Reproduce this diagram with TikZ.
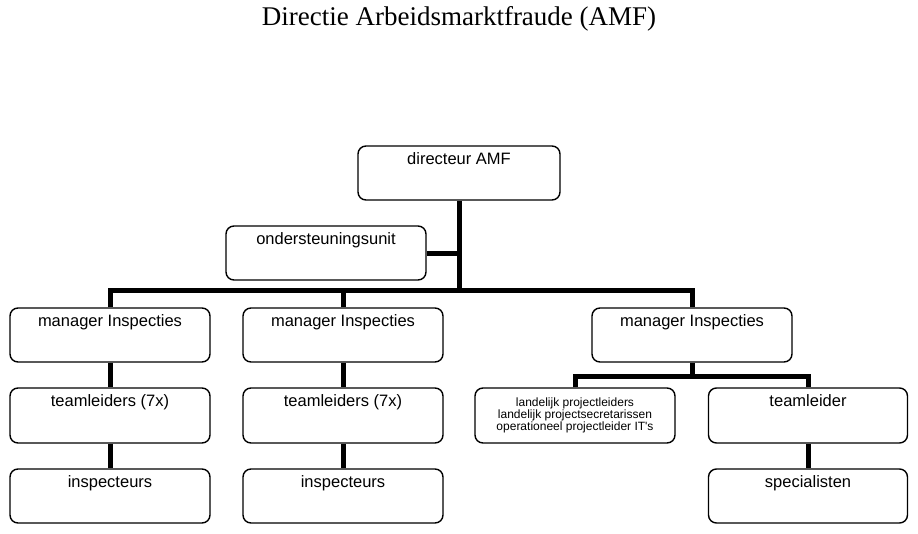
\documentclass[tikz,border=0pt]{standalone}
\usepackage{fontspec}
\setmainfont{Liberation Serif}
\newfontfamily\arialf{Liberation Sans}
\begin{document}
\begin{tikzpicture}[x=1pt,y=-1pt,
  box/.style={draw=black, line width=1.4pt, rounded corners=8pt, rectangle,
    minimum width=200pt, minimum height=54pt, inner sep=0pt, fill=white},
  lab/.style={anchor=north, inner sep=0pt, yshift=-7pt, font=\arialf\fontsize{16.5}{18}\selectfont},
  conn/.style={line width=5pt, draw=black}]
\useasboundingbox (0,0) rectangle (918,533);
\node[font=\fontsize{27}{30}\selectfont] (title) at (459,19) {Directie Arbeidsmarktfraude (AMF)};

% connectors first (behind boxes)
\coordinate (bus) at (459,290);
\coordinate (sb) at (692,376);

\node[box, minimum width=202pt, label={[lab]north:directeur AMF}] (dir) at (459,173) {};
\node[box, label={[lab]north:ondersteuningsunit}] (ond) at (326,253) {};

\node[box, label={[lab]north:manager Inspecties}] (m1) at (110,335) {};
\node[box, label={[lab]north:manager Inspecties}] (m2) at (343,335) {};
\node[box, label={[lab]north:manager Inspecties}] (m3) at (692,335) {};

\node[box, minimum height=55pt, label={[lab]north:teamleiders (7x)}] (t1) at (110,415.5) {};
\node[box, minimum height=55pt, label={[lab]north:teamleiders (7x)}] (t2) at (343,415.5) {};
\node[box, minimum height=55pt, align=center, font=\arialf\fontsize{12}{11.7}\selectfont] (land) at (575,415.5)
  {landelijk projectleiders\\landelijk projectsecretarissen\\operationeel projectleider IT's};
\node[box, minimum width=199pt, minimum height=55pt, label={[lab]north:teamleider}] (tl) at (808,415.5) {};

\node[box, label={[lab]north:inspecteurs}] (i1) at (110,496) {};
\node[box, label={[lab]north:inspecteurs}] (i2) at (343,496) {};
\node[box, minimum width=199pt, label={[lab]north:specialisten}] (sp) at (808,496) {};

\begin{scope}[on background layer/.style={}]
\draw[conn] (dir.south) -- (bus);
\draw[conn] (ond.east) -- (ond.east -| dir.south);
\draw[conn] (m1.north) |- (bus);
\draw[conn] (m3.north) |- (bus);
\draw[conn] (m2.north) -- (m2.north |- bus);
\draw[conn] (m3.south) -- (sb);
\draw[conn] (land.north) |- (sb);
\draw[conn] (tl.north) |- (sb);
\draw[conn] (m1.south) -- (t1.north);
\draw[conn] (m2.south) -- (t2.north);
\draw[conn] (t1.south) -- (i1.north);
\draw[conn] (t2.south) -- (i2.north);
\draw[conn] (tl.south) -- (sp.north);
\end{scope}
\end{tikzpicture}
\end{document}
